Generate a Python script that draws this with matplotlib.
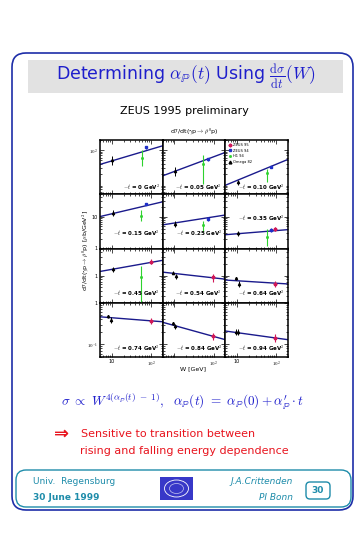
import numpy as np
import matplotlib
matplotlib.use('Agg')
import matplotlib.pyplot as plt
from matplotlib.patches import FancyBboxPatch, Rectangle, Ellipse
from matplotlib.ticker import LogLocator, NullFormatter, FixedLocator, FuncFormatter
from matplotlib.lines import Line2D

plt.rcParams['font.family'] = ['DejaVu Sans']
plt.rcParams['mathtext.fontset'] = 'cm'

# -t bins, one panel each (row by row)
t_labels = ['0', '0.05', '0.10', '0.15', '0.25', '0.35',
            '0.45', '0.54', '0.64', '0.74', '0.84', '0.94']

# fitted W dependence, values at the W ends of the axis
fit_w = [5, 200]
fit_lo = [38, 17.5, 9.2, 10, 5.5, 2.7, 1.28, 1.23, 0.77, 0.46, 0.34, 0.21]
fit_hi = [135, 86, 53.5, 29, 11.2, 3.9, 2.48, 0.81, 0.61, 0.35, 0.13, 0.13]

# Omega (low W)
omega_w = [[10], [10.1], [10.5], [10.7], [10.1], [10.5], [10.7],
           [9, 11], [9.5, 11], [8.1, 9.8], [9.2, 10.1], [9.6, 10.5]]
omega_y = [[51], [24], [11.6], [13.2], [5.9], [3.05], [1.46],
           [1.2, 0.95], [0.85, 0.62], [0.47, 0.39], [0.32, 0.27], [0.2, 0.2]]
omega_e = [[15], [7], [2], [2.5], [1.2], [0.6], [0.25],
           [0.12, 0.15], [0.08, 0.1], [0.05, 0.06], [0.03, 0.04], [0.03, 0.03]]

# H1 94 (first seven bins), asymmetric errors
h1_w = [58, 55, 57, 57.5, 55, 57, 57.5]
h1_y = [57, 39, 21, 10.5, 5.5, 2.35, 0.9]
h1_lo = [34, 10, 11.6, 7.5, 3.4, 1.2, 0.15]
h1_hi = [100, 72, 28.7, 16, 7.5, 4.2, 1.77]

# ZEUS 94 (first six bins)
z94_w = [77, 71, 74, 77, 72, 74]
z94_y = [121, 53.5, 32, 24.5, 8.4, 3.9]
z94_e = [10, 6, 3, 2, 1.3, 0.5]

# ZEUS 95 (bins 5..11)
z95_first = 5
z95_w = [93, 99, 95, 93, 99, 95, 93]
z95_y = [4.1, 2.3, 0.9, 0.61, 0.37, 0.157, 0.146]
z95_e = [0.6, 0.35, 0.2, 0.1, 0.06, 0.03, 0.03]

row_ylim = [(5, 200), (1, 50), (0.2, 5), (0.05, 1)]
row_ticks = [[100], [1, 10], [1], [0.1, 1]]

FIT = '#1a1a8c'
C_OM = 'black'
C_H1 = '#2ed22e'
C_94 = '#1f2fc8'
C_95 = '#d01858'

BLUE = '#1e1ecc'
RED = '#e8141e'
TEAL = '#1e8caa'

W, H = 363, 535
fig = plt.figure(figsize=(W / 100, H / 100), dpi=100)

# slide background drawn in pixel coordinates
bg = fig.add_axes([0, 0, 1, 1], zorder=-1)
bg.set_xlim(0, W)
bg.set_ylim(H, 0)
bg.axis('off')

bg.add_patch(FancyBboxPatch((12, 53), 341, 457, boxstyle='round,pad=0,rounding_size=14',
                            fc='white', ec='#1e2ea8', lw=1.2))
bg.add_patch(Rectangle((28, 60), 315, 33, fc='#e2e2e2', ec='none'))
bg.text(186, 77, r'Determining $\alpha_{\mathbb{P}}(t)$ Using $\frac{\mathrm{d}\sigma}{\mathrm{d}t}(W)$',
        color=BLUE, fontsize=12.5, ha='center', va='center')
bg.text(184, 111, 'ZEUS 1995 preliminary', fontsize=8, ha='center', va='center')
bg.text(194, 132, r'd$\sigma$/dt($\gamma$p$\rightarrow\rho^0$p)', fontsize=4.5,
        ha='center', va='center')
bg.text(86, 250, r'd$\sigma$/dt($\gamma$p$\rightarrow\rho^0$p) [$\mu$b/GeV$^2$]',
        fontsize=4.5, rotation=90, ha='center', va='center')
bg.text(193, 369, 'W [GeV]', fontsize=4.5, ha='center', va='center')

bg.text(183, 401, r'$\sigma\ \propto\ W^{4(\alpha_{\mathbb{P}}(t)\ -\ 1)},\ \ \alpha_{\mathbb{P}}(t)\ =\ \alpha_{\mathbb{P}}(0)+\alpha^{\prime}_{\mathbb{P}}\cdot t$',
        color=BLUE, fontsize=9.5, ha='center', va='center')
bg.text(54, 434, '\u21d2', color=RED, fontsize=13, fontweight='bold',
        ha='left', va='center')
bg.text(81, 434, 'Sensitive to transition between', color=RED, fontsize=8,
        ha='left', va='center')
bg.text(80, 451, 'rising and falling energy dependence', color=RED, fontsize=8,
        ha='left', va='center')

# footer
bg.add_patch(FancyBboxPatch((16, 470), 335, 37, boxstyle='round,pad=0,rounding_size=10',
                            fc='white', ec=TEAL, lw=1.0))
bg.text(33, 482, 'Univ.  Regensburg', color=TEAL, fontsize=6.5, ha='left', va='center')
bg.text(33, 497, '30 June 1999', color=TEAL, fontsize=6.5, fontweight='bold',
        ha='left', va='center')
bg.text(293, 482, 'J.A.Crittenden', color=TEAL, fontsize=6.5, style='italic',
        ha='right', va='center')
bg.text(293, 497, 'PI Bonn', color=TEAL, fontsize=6.5, style='italic',
        ha='right', va='center')
bg.add_patch(Rectangle((160, 477), 33, 23, fc='#3838c8', ec='none'))
bg.add_patch(Ellipse((176.5, 488.5), 24, 17, fc='none', ec='white', lw=0.6))
bg.add_patch(Ellipse((176.5, 488.5), 14, 10, fc='none', ec='#c8c8f0', lw=0.5))
bg.add_patch(FancyBboxPatch((306, 482), 24, 17, boxstyle='round,pad=0,rounding_size=4',
                            fc='white', ec=TEAL, lw=1.0))
bg.text(318, 490.5, '30', color=TEAL, fontsize=6.5, fontweight='bold',
        ha='center', va='center')

# panel grid
gs = fig.add_gridspec(4, 3, left=100 / W, right=288 / W, top=1 - 140 / H,
                      bottom=1 - 357 / H, wspace=0, hspace=0)
axes = gs.subplots()


def decade_label(v, pos):
    e = int(round(np.log10(v)))
    return {-1: r'$10^{-1}$', 0: '1', 1: '10', 2: r'$10^{2}$'}.get(e, '')


def decade_label_mid(v, pos):
    # the "10" of the middle column sits under the axis title
    return '' if abs(v - 10) < 1e-6 else decade_label(v, pos)


label_y = {0: 0.13, 1: 0.29, 2: 0.18, 3: 0.17}

for i, ax in enumerate(axes.flat):
    r, c = divmod(i, 3)
    ax.set_xscale('log')
    ax.set_yscale('log')
    ax.plot(fit_w, [fit_lo[i], fit_hi[i]], color=FIT, lw=1.0, zorder=2)

    ax.errorbar(omega_w[i], omega_y[i], yerr=omega_e[i], fmt='^', ms=1.6, color=C_OM,
                elinewidth=0.7, capsize=0, zorder=3)
    if i < len(h1_w):
        ax.errorbar([h1_w[i]], [h1_y[i]],
                    yerr=[[h1_y[i] - h1_lo[i]], [h1_hi[i] - h1_y[i]]],
                    fmt='s', ms=1.0, color=C_H1, elinewidth=0.8, capsize=0, zorder=3)
    if i < len(z94_w):
        ax.errorbar([z94_w[i]], [z94_y[i]], yerr=[z94_e[i]], fmt='s', ms=1.8, color=C_94,
                    elinewidth=0.8, capsize=0, zorder=4)
    k = i - z95_first
    if 0 <= k < len(z95_w):
        ax.errorbar([z95_w[k]], [z95_y[k]], yerr=[z95_e[k]], fmt='P', ms=2.0, color=C_95,
                    elinewidth=0.8, capsize=0, zorder=4)

    ax.set_xlim(fit_w)
    ax.set_ylim(row_ylim[r])
    ax.xaxis.set_major_locator(FixedLocator([10, 100]))
    ax.xaxis.set_minor_locator(LogLocator(subs=np.arange(2, 10)))
    ax.xaxis.set_minor_formatter(NullFormatter())
    ax.xaxis.set_major_formatter(FuncFormatter(decade_label_mid if c == 1 else decade_label))
    ax.yaxis.set_major_locator(FixedLocator(row_ticks[r]))
    ax.yaxis.set_minor_locator(LogLocator(subs=np.arange(2, 10)))
    ax.yaxis.set_minor_formatter(NullFormatter())
    ax.yaxis.set_major_formatter(FuncFormatter(decade_label))
    ax.tick_params(which='both', direction='in', top=True, right=True, width=0.5,
                   labelsize=3.5, pad=1.5, labelbottom=(r == 3), labelleft=(c == 0))
    ax.tick_params(which='major', length=3)
    ax.tick_params(which='minor', length=1.5)
    for s in ax.spines.values():
        s.set_linewidth(1.1)

    ly = 0.56 if i == 5 else label_y[r]
    ax.text(0.95, ly, r'$-t$ = ' + t_labels[i] + r' GeV$^2$', transform=ax.transAxes,
            fontsize=4, fontweight='bold', ha='right', va='center')

handles = [Line2D([], [], ls='none', marker='P', ms=2, color=C_95),
           Line2D([], [], ls='none', marker='s', ms=2, color=C_94),
           Line2D([], [], ls='none', marker='s', ms=1, color=C_H1),
           Line2D([], [], ls='none', marker='^', ms=2, color=C_OM)]
axes[0, 2].legend(handles, ['ZEUS 95', 'ZEUS 94', 'H1 94', 'Omega 82'], loc='upper left',
                  fontsize=2.6, frameon=False, handlelength=0.8, handletextpad=0.5,
                  labelspacing=0.45, borderaxespad=0.4)

fig.savefig('out.png', dpi=100)
